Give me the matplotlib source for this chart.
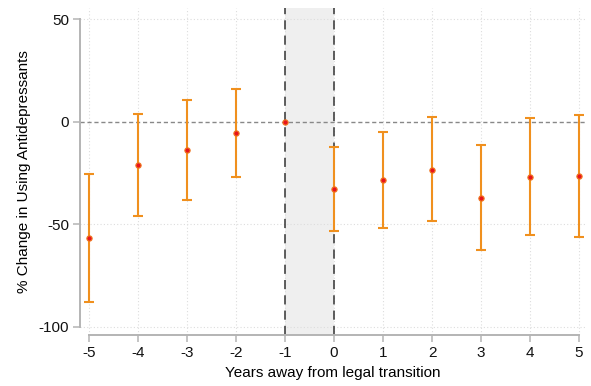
"""Event-study plot: % change in antidepressant use around the legal transition."""

import matplotlib

matplotlib.use("Agg")

import matplotlib.pyplot as plt  # noqa: E402

plt.rcParams["font.family"] = ["Liberation Sans", "DejaVu Sans"]
plt.rcParams["axes.unicode_minus"] = False  # plain hyphen minus, as in the original

# Years relative to transition, point estimates and 95% CI bounds.
years = [-5, -4, -3, -2, -1, 0, 1, 2, 3, 4, 5]
estimates = [-56.7, -21.1, -14.0, -5.7, 0.0, -32.8, -28.4, -23.3, -37.0, -26.8, -26.5]
ci_upper = [-25.5, 3.9, 10.6, 16.0, 0.0, -12.5, -5.2, 2.3, -11.2, 1.8, 3.1]
ci_lower = [-87.7, -46.0, -38.0, -27.0, 0.0, -53.0, -51.7, -48.3, -62.6, -55.0, -56.0]
y_ticks = [-100, -50, 0, 50]

ORANGE = "#f0901e"
AXIS_GREY = "#b4b4b4"

figure = plt.figure(figsize=(5.91, 3.86), dpi=100)
axis = figure.add_axes([80 / 591, 51 / 386, 505 / 591, 327 / 386])

axis.set_xlim(-5.184, 5.122)
axis.set_ylim(-103.9, 55.4)

# shaded window between the last pre-period and the transition year
axis.axvspan(-1, 0, color="#efefef", zorder=0, lw=0)
for x_line in (-1, 0):
    axis.axvline(x_line, color="#333333", lw=1.1, linestyle=(0, (6, 4)), zorder=1)

# dotted grid
for x_tick in years:
    axis.axvline(x_tick, color="#dddddd", lw=0.8, linestyle=(0, (1, 2)), zorder=0.5)
for y_tick in (-100, -50, 50):
    axis.axhline(y_tick, color="#dddddd", lw=0.8, linestyle=(0, (1, 2)), zorder=0.5)
axis.axhline(0, color="#888888", lw=1.0, linestyle=(0, (3, 2)), zorder=1)

# confidence intervals (the reference year carries no interval)
ci_x = [x for x in years if x != -1]
ci_mid = [e for x, e in zip(years, estimates) if x != -1]
ci_lo = [e - lo for x, e, lo in zip(years, estimates, ci_lower) if x != -1]
ci_hi = [hi - e for x, e, hi in zip(years, estimates, ci_upper) if x != -1]
axis.errorbar(
    ci_x, ci_mid, yerr=[ci_lo, ci_hi], fmt="none",
    ecolor=ORANGE, elinewidth=1.5, capsize=3.5, capthick=1.5, zorder=2,
)
axis.plot(
    years, estimates, linestyle="none", marker="o", markersize=3.8,
    markerfacecolor="#e8141c", markeredgecolor="#f07820", markeredgewidth=0.8, zorder=3,
)

# Stata-like axes: detached spines limited to tick range
for side in ("top", "right"):
    axis.spines[side].set_visible(False)
axis.spines["left"].set_bounds(-100, 50)
axis.spines["bottom"].set_bounds(-5, 5)
for side in ("left", "bottom"):
    axis.spines[side].set_color(AXIS_GREY)
    axis.spines[side].set_linewidth(1.4)

axis.set_xticks(years)
axis.set_yticks(y_ticks)
axis.tick_params(axis="both", color=AXIS_GREY, length=5, width=1.1, labelsize=11,
                 labelcolor="#111111", pad=3)
axis.set_xlabel("Years away from legal transition", fontsize=11, labelpad=4)
axis.set_ylabel("% Change in Using Antidepressants", fontsize=11, labelpad=5)
axis.patch.set_alpha(0)

figure.savefig("out.png", dpi=100)
